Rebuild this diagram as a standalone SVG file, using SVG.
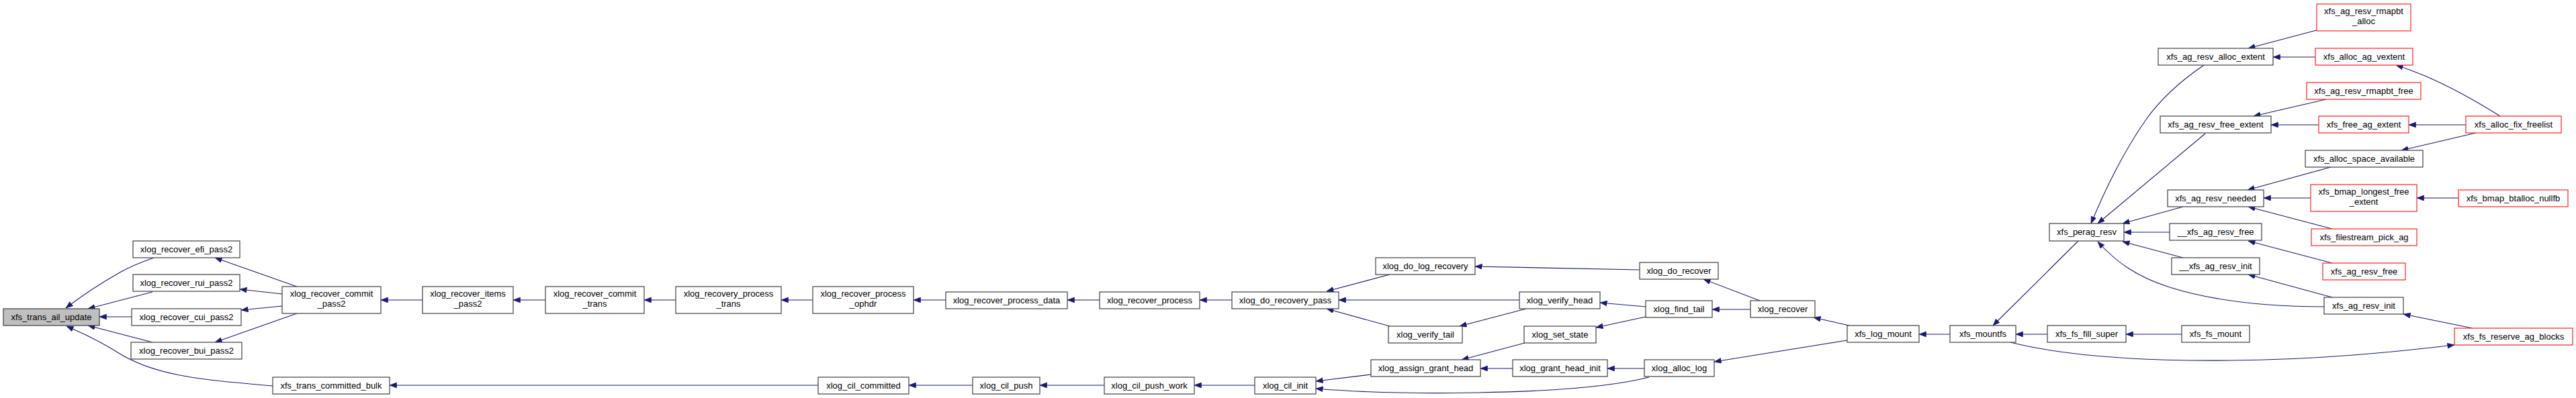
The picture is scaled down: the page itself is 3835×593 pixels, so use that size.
<svg xmlns="http://www.w3.org/2000/svg" width="3835" height="593" viewBox="0 0 3835 593">
<style>
.n rect{fill:#ffffff;stroke:#404040;stroke-width:1.2}
.n.r rect{stroke:#ff2020}
.n.g rect{fill:#bfbfbf}
.n text{font-family:"Liberation Sans",Arial,Helvetica,sans-serif;font-size:13px;fill:#000;text-anchor:middle}
#edges path{fill:none;stroke:#191970;stroke-width:1.1;marker-end:url(#a)}
</style>
<defs>
<marker id="a" markerUnits="userSpaceOnUse" markerWidth="11" markerHeight="9" refX="10.5" refY="4" orient="auto">
<path d="M0,0 L10.5,4 L0,8 Z" fill="#191970" stroke="#191970" stroke-width="0.6"/>
</marker>
</defs>
<rect width="3835" height="593" fill="#ffffff"/>
<g id="edges">
<path d="M229,384 C212,390 196,396 180,405 C150,422 120,442 98,459"/>
<path d="M227,435 L131,460"/>
<path d="M196,472 L148,472"/>
<path d="M227,510 L131,485"/>
<path d="M406,575 C300,566 230,560 175,525 C140,503 115,493 99,486"/>
<path d="M442,427 L320,384"/>
<path d="M420,438 L357,431"/>
<path d="M420,456 L359,462"/>
<path d="M442,467 L320,510"/>
<path d="M629,447 L567,447"/>
<path d="M812,447 L764,447"/>
<path d="M1006,447 L959,447"/>
<path d="M1210,447 L1163,447"/>
<path d="M1408,447 L1360,447"/>
<path d="M1637,447 L1589,447"/>
<path d="M1834,447 L1786,447"/>
<path d="M2069,409 L1975,434"/>
<path d="M2262,447 L1993,447"/>
<path d="M2069,486 L1975,460"/>
<path d="M2272,460 L2173,486"/>
<path d="M2441,402 L2196,397"/>
<path d="M2620,448 L2536,416"/>
<path d="M2450,457 L2382,451"/>
<path d="M2450,472 L2376,488"/>
<path d="M2606,461 L2549,461"/>
<path d="M2753,485 L2700,473"/>
<path d="M2750,507 L2552,539"/>
<path d="M2270,511 L2176,536"/>
<path d="M2252,549 L2204,549"/>
<path d="M2448,549 L2393,549"/>
<path d="M2041,558 L1959,568"/>
<path d="M2455,562 C2400,576 2320,583 2200,585 C2100,587 2020,584 1959,579"/>
<path d="M1868,574 L1778,574"/>
<path d="M1644,574 L1548,574"/>
<path d="M1448,574 L1353,574"/>
<path d="M1218,574 L580,574"/>
<path d="M2903,498 L2857,498"/>
<path d="M3048,498 L3001,498"/>
<path d="M3248,498 L3165,498"/>
<path d="M3094,359 L2967,485"/>
<path d="M2993,510 C3080,532 3200,538 3320,537 C3450,536 3560,525 3654,514"/>
<path d="M3281,97 C3240,125 3215,150 3195,178 C3160,228 3135,280 3113,333"/>
<path d="M3283,199 L3123,333"/>
<path d="M3250,308 L3160,333"/>
<path d="M3230,346 L3162,346"/>
<path d="M3250,384 L3160,360"/>
<path d="M3460,457 C3380,457 3300,450 3230,428 C3180,412 3150,390 3123,360"/>
<path d="M3470,249 L3346,283"/>
<path d="M3440,295 L3370,295"/>
<path d="M3660,295 L3598,295"/>
<path d="M3472,341 L3347,308"/>
<path d="M3472,392 L3347,359"/>
<path d="M3472,443 L3347,409"/>
<path d="M3681,489 L3578,468"/>
<path d="M3449,45 L3347,72"/>
<path d="M3447,85 L3384,85"/>
<path d="M3463,148 L3355,173"/>
<path d="M3452,186 L3381,186"/>
<path d="M3722,173 C3690,153 3650,130 3610,113 C3595,107 3580,101 3567,97"/>
<path d="M3671,186 L3586,186"/>
<path d="M3686,198 L3575,224"/>
</g>
<g id="xfs_trans_ail_update" class="n g"><rect x="5" y="460" width="143" height="25"/><text x="76.5" y="477">xfs_trans_ail_update</text></g>
<g id="xlog_recover_efi_pass2" class="n"><rect x="198" y="359" width="159" height="25"/><text x="277.5" y="376">xlog_recover_efi_pass2</text></g>
<g id="xlog_recover_rui_pass2" class="n"><rect x="198" y="409" width="159" height="25"/><text x="277.5" y="426">xlog_recover_rui_pass2</text></g>
<g id="xlog_recover_cui_pass2" class="n"><rect x="196" y="460" width="163" height="25"/><text x="277.5" y="477">xlog_recover_cui_pass2</text></g>
<g id="xlog_recover_bui_pass2" class="n"><rect x="195" y="510" width="165" height="25"/><text x="277.5" y="527">xlog_recover_bui_pass2</text></g>
<g id="xlog_recover_commit_pass2" class="n"><rect x="420" y="427" width="147" height="40"/><text x="493.5" y="441.5">xlog_recover_commit</text><text x="493.5" y="456.5">_pass2</text></g>
<g id="xlog_recover_items_pass2" class="n"><rect x="629" y="427" width="135" height="40"/><text x="696.5" y="441.5">xlog_recover_items</text><text x="696.5" y="456.5">_pass2</text></g>
<g id="xlog_recover_commit_trans" class="n"><rect x="812" y="427" width="147" height="40"/><text x="885.5" y="441.5">xlog_recover_commit</text><text x="885.5" y="456.5">_trans</text></g>
<g id="xlog_recovery_process_trans" class="n"><rect x="1006" y="427" width="157" height="40"/><text x="1084.5" y="441.5">xlog_recovery_process</text><text x="1084.5" y="456.5">_trans</text></g>
<g id="xlog_recover_process_ophdr" class="n"><rect x="1210" y="427" width="150" height="40"/><text x="1285" y="441.5">xlog_recover_process</text><text x="1285" y="456.5">_ophdr</text></g>
<g id="xlog_recover_process_data" class="n"><rect x="1408" y="435" width="181" height="25"/><text x="1498.5" y="452">xlog_recover_process_data</text></g>
<g id="xlog_recover_process" class="n"><rect x="1637" y="435" width="149" height="25"/><text x="1711.5" y="452">xlog_recover_process</text></g>
<g id="xlog_do_recovery_pass" class="n"><rect x="1834" y="435" width="159" height="25"/><text x="1913.5" y="452">xlog_do_recovery_pass</text></g>
<g id="xlog_do_log_recovery" class="n"><rect x="2048" y="384" width="148" height="25"/><text x="2122" y="401">xlog_do_log_recovery</text></g>
<g id="xlog_verify_tail" class="n"><rect x="2067" y="486" width="110" height="25"/><text x="2122" y="503">xlog_verify_tail</text></g>
<g id="xlog_verify_head" class="n"><rect x="2262" y="435" width="120" height="25"/><text x="2322" y="452">xlog_verify_head</text></g>
<g id="xlog_do_recover" class="n"><rect x="2441" y="391" width="117" height="25"/><text x="2499.5" y="408">xlog_do_recover</text></g>
<g id="xlog_find_tail" class="n"><rect x="2450" y="448" width="99" height="25"/><text x="2499.5" y="465">xlog_find_tail</text></g>
<g id="xlog_recover" class="n"><rect x="2606" y="448" width="96" height="25"/><text x="2654" y="465">xlog_recover</text></g>
<g id="xlog_set_state" class="n"><rect x="2269" y="486" width="107" height="25"/><text x="2322.5" y="503">xlog_set_state</text></g>
<g id="xlog_grant_head_init" class="n"><rect x="2252" y="536" width="141" height="25"/><text x="2322.5" y="553">xlog_grant_head_init</text></g>
<g id="xlog_assign_grant_head" class="n"><rect x="2041" y="536" width="163" height="25"/><text x="2122.5" y="553">xlog_assign_grant_head</text></g>
<g id="xlog_alloc_log" class="n"><rect x="2448" y="536" width="104" height="25"/><text x="2500" y="553">xlog_alloc_log</text></g>
<g id="xfs_log_mount" class="n"><rect x="2750" y="485" width="107" height="25"/><text x="2803.5" y="502">xfs_log_mount</text></g>
<g id="xfs_mountfs" class="n"><rect x="2903" y="485" width="98" height="25"/><text x="2952" y="502">xfs_mountfs</text></g>
<g id="xfs_fs_fill_super" class="n"><rect x="3048" y="485" width="117" height="25"/><text x="3106.5" y="502">xfs_fs_fill_super</text></g>
<g id="xfs_fs_mount" class="n"><rect x="3248" y="485" width="101" height="25"/><text x="3298.5" y="502">xfs_fs_mount</text></g>
<g id="xfs_perag_resv" class="n"><rect x="3051" y="333" width="111" height="26"/><text x="3106.5" y="350">xfs_perag_resv</text></g>
<g id="xfs_ag_resv_alloc_extent" class="n"><rect x="3213" y="72" width="171" height="25"/><text x="3298.5" y="89">xfs_ag_resv_alloc_extent</text></g>
<g id="xfs_ag_resv_rmapbt_alloc" class="n r"><rect x="3449" y="6" width="140" height="40"/><text x="3519" y="20.5">xfs_ag_resv_rmapbt</text><text x="3519" y="35.5">_alloc</text></g>
<g id="xfs_alloc_ag_vextent" class="n r"><rect x="3447" y="72" width="145" height="25"/><text x="3519.5" y="89">xfs_alloc_ag_vextent</text></g>
<g id="xfs_ag_resv_free_extent" class="n"><rect x="3216" y="173" width="165" height="25"/><text x="3298.5" y="190">xfs_ag_resv_free_extent</text></g>
<g id="xfs_ag_resv_rmapbt_free" class="n r"><rect x="3434" y="123" width="170" height="25"/><text x="3519" y="140">xfs_ag_resv_rmapbt_free</text></g>
<g id="xfs_free_ag_extent" class="n r"><rect x="3452" y="173" width="134" height="25"/><text x="3519" y="190">xfs_free_ag_extent</text></g>
<g id="xfs_alloc_fix_freelist" class="n r"><rect x="3671" y="173" width="142" height="25"/><text x="3742" y="190">xfs_alloc_fix_freelist</text></g>
<g id="xfs_alloc_space_available" class="n"><rect x="3432" y="224" width="175" height="25"/><text x="3519.5" y="241">xfs_alloc_space_available</text></g>
<g id="xfs_ag_resv_needed" class="n"><rect x="3227" y="283" width="143" height="25"/><text x="3298.5" y="300">xfs_ag_resv_needed</text></g>
<g id="xfs_bmap_longest_free_extent" class="n r"><rect x="3440" y="275" width="158" height="40"/><text x="3519" y="289.5">xfs_bmap_longest_free</text><text x="3519" y="304.5">_extent</text></g>
<g id="xfs_bmap_btalloc_nullfb" class="n r"><rect x="3660" y="283" width="163" height="25"/><text x="3741.5" y="300">xfs_bmap_btalloc_nullfb</text></g>
<g id="xfs_filestream_pick_ag" class="n r"><rect x="3441" y="341" width="157" height="25"/><text x="3519.5" y="358">xfs_filestream_pick_ag</text></g>
<g id="__xfs_ag_resv_free" class="n"><rect x="3230" y="333" width="137" height="25"/><text x="3298.5" y="350">__xfs_ag_resv_free</text></g>
<g id="xfs_ag_resv_free" class="n r"><rect x="3458" y="392" width="123" height="25"/><text x="3519.5" y="409">xfs_ag_resv_free</text></g>
<g id="__xfs_ag_resv_init" class="n"><rect x="3233" y="384" width="131" height="25"/><text x="3298.5" y="401">__xfs_ag_resv_init</text></g>
<g id="xfs_ag_resv_init" class="n"><rect x="3460" y="443" width="118" height="25"/><text x="3519" y="460">xfs_ag_resv_init</text></g>
<g id="xfs_fs_reserve_ag_blocks" class="n r"><rect x="3654" y="489" width="176" height="25"/><text x="3742" y="506">xfs_fs_reserve_ag_blocks</text></g>
<g id="xfs_trans_committed_bulk" class="n"><rect x="406" y="562" width="174" height="25"/><text x="493" y="579">xfs_trans_committed_bulk</text></g>
<g id="xlog_cil_committed" class="n"><rect x="1218" y="562" width="135" height="25"/><text x="1285.5" y="579">xlog_cil_committed</text></g>
<g id="xlog_cil_push" class="n"><rect x="1448" y="562" width="100" height="25"/><text x="1498" y="579">xlog_cil_push</text></g>
<g id="xlog_cil_push_work" class="n"><rect x="1644" y="562" width="134" height="25"/><text x="1711" y="579">xlog_cil_push_work</text></g>
<g id="xlog_cil_init" class="n"><rect x="1868" y="562" width="91" height="25"/><text x="1913.5" y="579">xlog_cil_init</text></g>
</svg>
